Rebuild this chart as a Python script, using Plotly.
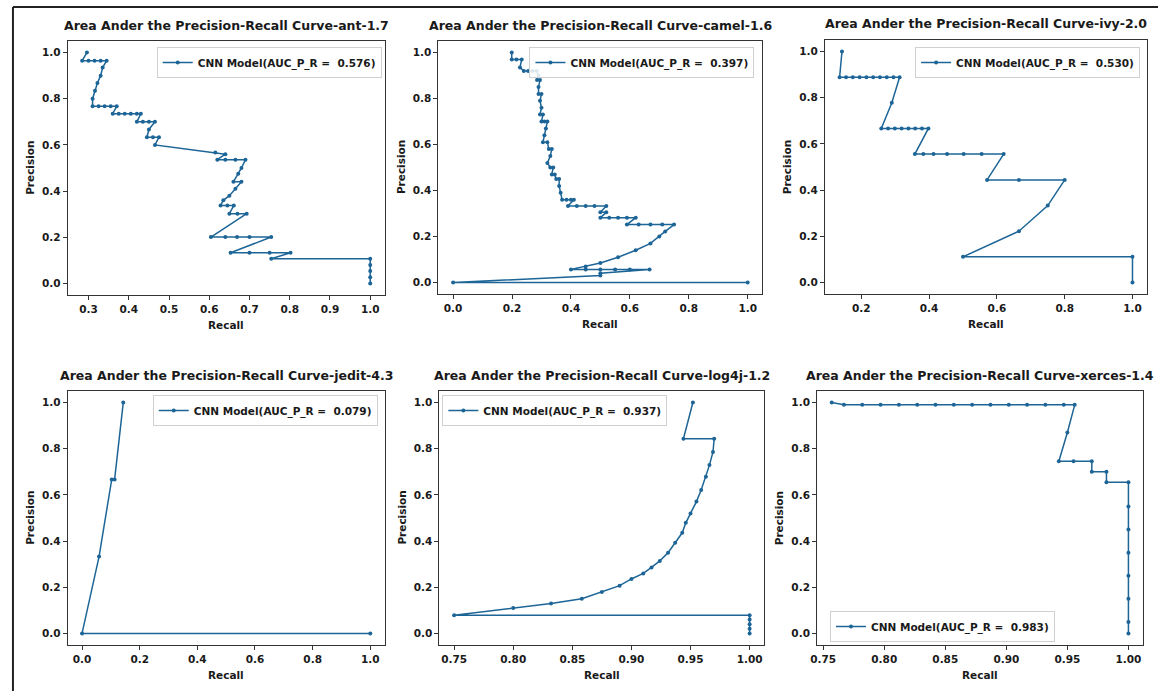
import plotly.graph_objects as go
from plotly.subplots import make_subplots

# ---- data: (recall, precision) pairs for each project ----
projects = ["ant-1.7", "camel-1.6", "ivy-2.0", "jedit-4.3", "log4j-1.2", "xerces-1.4"]
auc_values = [0.576, 0.397, 0.530, 0.079, 0.937, 0.983]

ant_recall = [0.296, 0.284, 0.300, 0.315, 0.330, 0.345, 0.335, 0.330, 0.322, 0.316, 0.310,
              0.310, 0.325, 0.340, 0.355, 0.370, 0.360, 0.375, 0.390, 0.405, 0.420, 0.430,
              0.420, 0.435, 0.450, 0.465, 0.450, 0.445, 0.460, 0.475, 0.465, 0.615, 0.640,
              0.620, 0.640, 0.665, 0.690, 0.680, 0.672, 0.660, 0.680, 0.665, 0.650, 0.635,
              0.628, 0.645, 0.661, 0.650, 0.670, 0.693, 0.604, 0.640, 0.669, 0.700, 0.754,
              0.653, 0.700, 0.750, 0.802, 0.754, 1.000, 1.000, 1.000, 1.000, 1.000]
ant_precision = [1.000, 0.965, 0.965, 0.965, 0.965, 0.965, 0.935, 0.900, 0.868, 0.835, 0.800,
                 0.767, 0.767, 0.767, 0.767, 0.767, 0.735, 0.735, 0.735, 0.735, 0.735, 0.735,
                 0.700, 0.700, 0.700, 0.700, 0.667, 0.633, 0.633, 0.633, 0.600, 0.567, 0.560,
                 0.536, 0.536, 0.536, 0.536, 0.500, 0.475, 0.440, 0.440, 0.410, 0.380, 0.360,
                 0.338, 0.338, 0.338, 0.302, 0.302, 0.302, 0.201, 0.201, 0.201, 0.201, 0.201,
                 0.133, 0.133, 0.133, 0.133, 0.107, 0.107, 0.080, 0.054, 0.027, 0.000]

camel_recall = [0.199, 0.199, 0.215, 0.233, 0.227, 0.240, 0.255, 0.270, 0.284, 0.290, 0.285,
                0.295, 0.290, 0.290, 0.300, 0.295, 0.300, 0.295, 0.305, 0.300, 0.310, 0.320,
                0.315, 0.310, 0.305, 0.320, 0.325, 0.335, 0.330, 0.320, 0.330, 0.340, 0.335,
                0.345, 0.350, 0.360, 0.360, 0.365, 0.370, 0.385, 0.400, 0.410, 0.390, 0.420,
                0.450, 0.480, 0.520, 0.500, 0.520, 0.500, 0.530, 0.560, 0.590, 0.620, 0.590,
                0.630, 0.670, 0.710, 0.750, 0.720, 0.700, 0.670, 0.620, 0.560, 0.500, 0.450,
                0.400, 0.450, 0.500, 0.550, 0.600, 0.667, 0.500, 0.500, 0.000, 1.000]
camel_precision = [1.000, 0.970, 0.970, 0.970, 0.935, 0.920, 0.920, 0.920, 0.920, 0.900, 0.880,
                   0.880, 0.850, 0.820, 0.820, 0.790, 0.760, 0.730, 0.730, 0.700, 0.700, 0.700,
                   0.670, 0.640, 0.610, 0.610, 0.580, 0.580, 0.550, 0.520, 0.500, 0.500, 0.470,
                   0.470, 0.450, 0.450, 0.420, 0.390, 0.360, 0.360, 0.360, 0.360, 0.333, 0.333,
                   0.333, 0.333, 0.333, 0.305, 0.305, 0.282, 0.282, 0.282, 0.282, 0.282, 0.252,
                   0.252, 0.252, 0.252, 0.252, 0.222, 0.200, 0.170, 0.140, 0.110, 0.085, 0.070,
                   0.057, 0.057, 0.057, 0.057, 0.057, 0.057, 0.040, 0.030, 0.000, 0.000]

ivy_recall = [0.143, 0.136, 0.155, 0.175, 0.195, 0.215, 0.235, 0.255, 0.275, 0.295, 0.313,
              0.290, 0.259, 0.279, 0.299, 0.319, 0.339, 0.359, 0.379, 0.398, 0.358, 0.383,
              0.413, 0.453, 0.502, 0.555, 0.620, 0.571, 0.665, 0.800, 0.750, 0.665, 0.500,
              1.000, 1.000]
ivy_precision = [1.000, 0.889, 0.889, 0.889, 0.889, 0.889, 0.889, 0.889, 0.889, 0.889, 0.889,
                 0.778, 0.667, 0.667, 0.667, 0.667, 0.667, 0.667, 0.667, 0.667, 0.556, 0.556,
                 0.556, 0.556, 0.556, 0.556, 0.556, 0.444, 0.444, 0.444, 0.333, 0.222, 0.111,
                 0.111, 0.000]

jedit_recall = [1.000, 0.000, 0.059, 0.103, 0.113, 0.143]
jedit_precision = [0.000, 0.000, 0.333, 0.667, 0.667, 1.000]

log4j_recall = [1.000, 1.000, 1.000, 1.000, 1.000, 0.750, 0.800, 0.832, 0.858, 0.875, 0.890,
                0.900, 0.910, 0.917, 0.924, 0.931, 0.937, 0.943, 0.946, 0.950, 0.955, 0.959,
                0.963, 0.966, 0.969, 0.970, 0.944, 0.952]
log4j_precision = [0.000, 0.020, 0.040, 0.060, 0.079, 0.079, 0.110, 0.130, 0.150, 0.180, 0.207,
                   0.236, 0.260, 0.286, 0.314, 0.350, 0.393, 0.436, 0.479, 0.520, 0.571, 0.621,
                   0.679, 0.729, 0.786, 0.843, 0.843, 1.000]

xerces_recall = [0.757, 0.767, 0.782, 0.797, 0.812, 0.827, 0.842, 0.857, 0.872, 0.887, 0.902,
                 0.917, 0.932, 0.947, 0.956, 0.950, 0.943, 0.955, 0.970, 0.970, 0.982, 0.982,
                 1.000, 1.000, 1.000, 1.000, 1.000, 1.000, 1.000, 1.000]
xerces_precision = [1.000, 0.990, 0.990, 0.990, 0.990, 0.990, 0.990, 0.990, 0.990, 0.990, 0.990,
                    0.990, 0.990, 0.990, 0.990, 0.870, 0.746, 0.746, 0.746, 0.700, 0.700, 0.655,
                    0.655, 0.550, 0.450, 0.350, 0.250, 0.150, 0.050, 0.000]

recalls = [ant_recall, camel_recall, ivy_recall, jedit_recall, log4j_recall, xerces_recall]
precisions = [ant_precision, camel_precision, ivy_precision, jedit_precision,
              log4j_precision, xerces_precision]

# ---- axis settings per panel ----
x_ranges = [[0.248, 1.036], [-0.05, 1.05], [0.093, 1.043],
            [-0.05, 1.05], [0.7375, 1.0125], [0.745, 1.012]]
x_ticks = [[0.3, 0.4, 0.5, 0.6, 0.7, 0.8, 0.9, 1.0],
           [0.0, 0.2, 0.4, 0.6, 0.8, 1.0],
           [0.2, 0.4, 0.6, 0.8, 1.0],
           [0.0, 0.2, 0.4, 0.6, 0.8, 1.0],
           [0.75, 0.80, 0.85, 0.90, 0.95, 1.00],
           [0.75, 0.80, 0.85, 0.90, 0.95, 1.00]]
x_formats = [".1f", ".1f", ".1f", ".1f", ".2f", ".2f"]
y_ticks = [0.0, 0.2, 0.4, 0.6, 0.8, 1.0]

W, H = 1158, 691
# plot-area boxes in pixels: (left, right, top, bottom)
boxes = [(61, 380, 41, 295), (434, 760, 41, 294), (823, 1147, 40, 294),
         (61, 380, 391, 645), (435, 762, 391, 645), (815, 1143, 391, 645)]

LINE = "#1d6597"
TEXT = "#1a1a1a"
FONT = "DejaVu Sans"

fig = make_subplots(rows=2, cols=3)

for i in range(6):
    r, c = i // 3 + 1, i % 3 + 1
    legend_name = "legend" if i == 0 else f"legend{i + 1}"
    fig.add_trace(go.Scatter(
        x=recalls[i], y=precisions[i], mode="lines+markers",
        line=dict(color=LINE, width=1.5),
        marker=dict(color=LINE, size=4),
        name=f"CNN Model(AUC_P_R =  {auc_values[i]:.3f})",
        legend=legend_name, showlegend=True,
    ), row=r, col=c)

axis_common = dict(showgrid=False, zeroline=False, showline=True, mirror=True,
                   linecolor="#333333", linewidth=1, ticks="outside", ticklen=4,
                   tickcolor="#333333",
                   tickfont=dict(family=FONT, size=10.5, color=TEXT, weight="bold"))

layout_updates = {}
annotations = []
for i in range(6):
    left, right, top, bottom = boxes[i]
    xd = [left / W, right / W]
    yd = [1 - bottom / H, 1 - top / H]
    sfx = "" if i == 0 else str(i + 1)
    layout_updates[f"xaxis{sfx}"] = dict(domain=xd, range=x_ranges[i], tickvals=x_ticks[i],
                                         tickformat=x_formats[i], **axis_common)
    layout_updates[f"yaxis{sfx}"] = dict(domain=yd, range=[-0.05, 1.05], tickvals=y_ticks,
                                         tickformat=".1f", **axis_common)
    cx = (left + right) / 2 / W
    # panel title
    annotations.append(dict(text=f"Area Ander the Precision-Recall Curve-{projects[i]}",
                            x=cx, y=1 - (top - 16) / H, xref="paper", yref="paper",
                            xanchor="center", yanchor="middle", showarrow=False,
                            font=dict(family=FONT, size=12.5, color=TEXT, weight="bold")))
    # axis titles
    annotations.append(dict(text="Recall", x=cx, y=1 - (bottom + 30) / H,
                            xref="paper", yref="paper", xanchor="center", yanchor="middle",
                            showarrow=False,
                            font=dict(family=FONT, size=10.5, color=TEXT, weight="bold")))
    annotations.append(dict(text="Precision", x=(left - 38) / W, y=1 - (top + bottom) / 2 / H,
                            xref="paper", yref="paper", xanchor="center", yanchor="middle",
                            textangle=-90, showarrow=False,
                            font=dict(family=FONT, size=10.5, color=TEXT, weight="bold")))

legend_common = dict(xref="paper", yref="paper", bgcolor="rgba(255,255,255,0.85)",
                     bordercolor="#d0d0d0", borderwidth=1, itemwidth=30,
                     font=dict(family=FONT, size=10.5, color=TEXT, weight="bold"))
legend_pos = [
    dict(x=377 / W, y=1 - 47 / H, xanchor="right", yanchor="top"),
    dict(x=752 / W, y=1 - 47 / H, xanchor="right", yanchor="top"),
    dict(x=1140 / W, y=1 - 47 / H, xanchor="right", yanchor="top"),
    dict(x=373 / W, y=1 - 395 / H, xanchor="right", yanchor="top"),
    dict(x=438 / W, y=1 - 395 / H, xanchor="left", yanchor="top"),
    dict(x=828 / W, y=1 - 642 / H, xanchor="left", yanchor="bottom"),
]
for i in range(6):
    key = "legend" if i == 0 else f"legend{i + 1}"
    layout_updates[key] = dict(**legend_common, **legend_pos[i])

# outer frame lines (top and left edges)
shapes = [
    dict(type="line", xref="paper", yref="paper", x0=6 / W, x1=1, y0=1 - 7 / H, y1=1 - 7 / H,
         line=dict(color="#222222", width=2)),
    dict(type="line", xref="paper", yref="paper", x0=6 / W, x1=6 / W, y0=0, y1=1 - 7 / H,
         line=dict(color="#222222", width=2)),
]

fig.update_layout(**layout_updates)
fig.update_layout(width=W, height=H, margin=dict(l=0, r=0, t=0, b=0),
                  paper_bgcolor="white", plot_bgcolor="white",
                  annotations=annotations, shapes=shapes,
                  font=dict(family=FONT, color=TEXT))

fig.write_html("out.html")
